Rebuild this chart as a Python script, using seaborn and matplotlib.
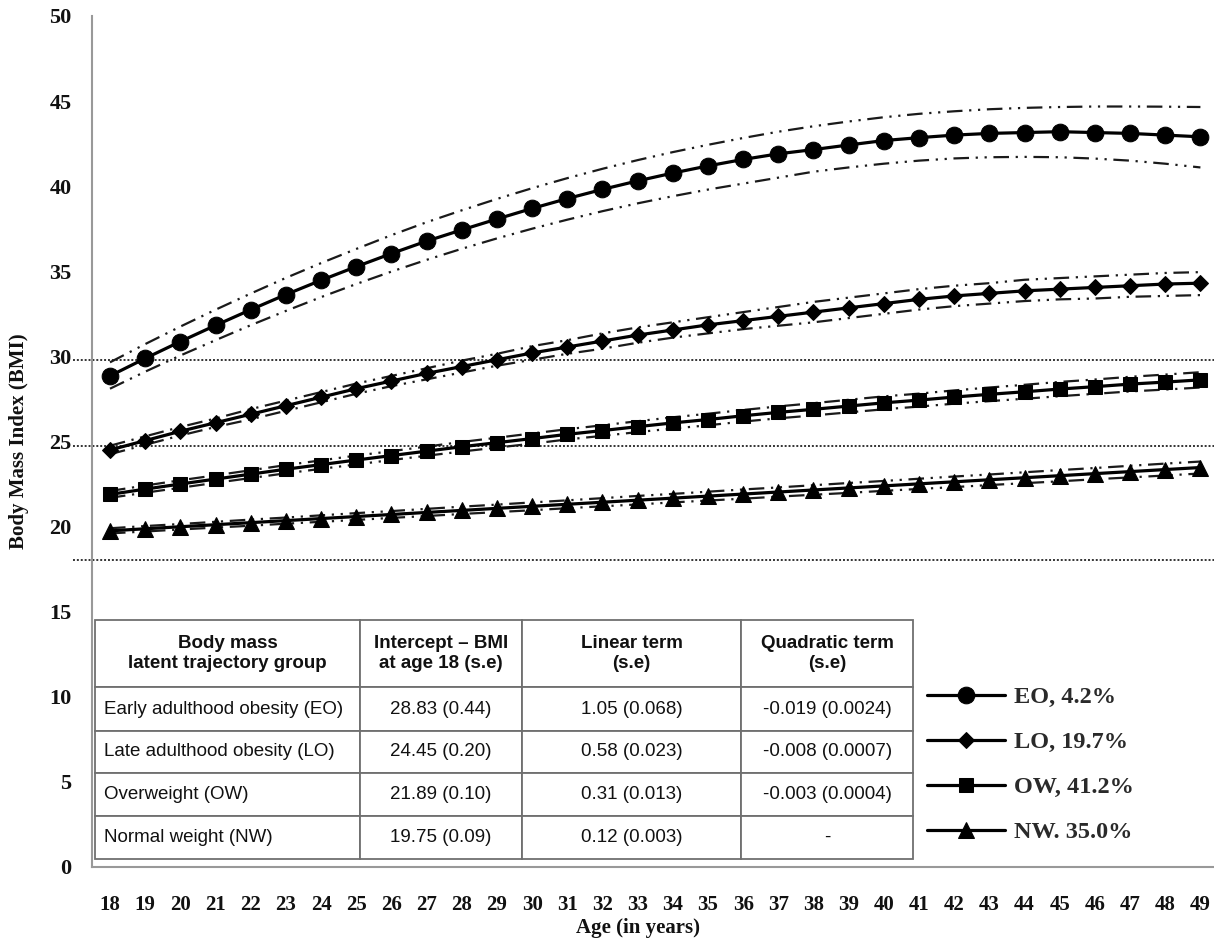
import matplotlib
matplotlib.use("Agg")
import matplotlib.pyplot as plt
from matplotlib import font_manager
from matplotlib.ticker import MultipleLocator
import pandas as pd
import seaborn as sns

# ---- data -------------------------------------------------------------------
ages = list(range(18, 50))

eo = [28.85, 29.88, 30.87, 31.82, 32.74, 33.63, 34.47, 35.27, 36.04, 36.77, 37.43,
      38.07, 38.69, 39.27, 39.81, 40.31, 40.77, 41.19, 41.57, 41.90, 42.15, 42.42,
      42.68, 42.85, 43.00, 43.10, 43.15, 43.20, 43.15, 43.10, 43.00, 42.90]
eo_hi = [29.65, 30.72, 31.75, 32.74, 33.69, 34.61, 35.48, 36.31, 37.12, 37.88, 38.58,
         39.25, 39.88, 40.47, 41.02, 41.53, 42.00, 42.43, 42.83, 43.20, 43.52, 43.80,
         44.05, 44.25, 44.40, 44.52, 44.60, 44.65, 44.68, 44.68, 44.67, 44.65]
eo_lo = [28.10, 29.10, 30.05, 30.95, 31.83, 32.67, 33.48, 34.25, 34.98, 35.67, 36.32,
         36.93, 37.50, 38.03, 38.53, 38.99, 39.41, 39.80, 40.15, 40.50, 40.85, 41.10,
         41.32, 41.50, 41.63, 41.70, 41.72, 41.70, 41.62, 41.50, 41.32, 41.10]

lo = [24.50, 25.05, 25.60, 26.10, 26.60, 27.10, 27.60, 28.10, 28.55, 29.00, 29.40,
      29.80, 30.20, 30.55, 30.90, 31.25, 31.55, 31.85, 32.10, 32.35, 32.60, 32.85,
      33.10, 33.35, 33.55, 33.70, 33.85, 33.95, 34.05, 34.15, 34.25, 34.30]
lo_hi = [24.75, 25.30, 25.85, 26.35, 26.90, 27.40, 27.90, 28.40, 28.85, 29.30, 29.75,
         30.15, 30.60, 30.95, 31.35, 31.70, 32.00, 32.30, 32.60, 32.90, 33.20, 33.45,
         33.70, 33.95, 34.15, 34.30, 34.50, 34.60, 34.70, 34.80, 34.90, 34.95]
lo_lo = [24.25, 24.80, 25.35, 25.85, 26.30, 26.80, 27.30, 27.80, 28.25, 28.65, 29.05,
         29.45, 29.80, 30.15, 30.45, 30.80, 31.10, 31.35, 31.60, 31.80, 32.00, 32.25,
         32.50, 32.75, 32.95, 33.10, 33.25, 33.35, 33.40, 33.50, 33.55, 33.60]

ow = [21.89, 22.20, 22.50, 22.79, 23.08, 23.37, 23.64, 23.91, 24.17, 24.43, 24.69,
      24.93, 25.17, 25.42, 25.64, 25.87, 26.09, 26.29, 26.51, 26.71, 26.89, 27.08,
      27.27, 27.43, 27.61, 27.77, 27.92, 28.08, 28.22, 28.37, 28.49, 28.62]
ow_hi = [22.09, 22.41, 22.72, 23.01, 23.31, 23.61, 23.89, 24.17, 24.43, 24.70, 24.97,
         25.22, 25.47, 25.72, 25.95, 26.19, 26.42, 26.63, 26.85, 27.06, 27.25, 27.45,
         27.65, 27.81, 28.00, 28.17, 28.33, 28.50, 28.64, 28.80, 28.93, 29.07]
ow_lo = [21.69, 21.99, 22.28, 22.57, 22.85, 23.13, 23.39, 23.65, 23.91, 24.16, 24.41,
         24.64, 24.87, 25.12, 25.33, 25.55, 25.76, 25.95, 26.17, 26.36, 26.53, 26.71,
         26.89, 27.05, 27.22, 27.37, 27.51, 27.66, 27.80, 27.94, 28.05, 28.17]

nw = [19.75, 19.87, 19.99, 20.11, 20.23, 20.35, 20.47, 20.59, 20.71, 20.83, 20.95,
      21.07, 21.19, 21.31, 21.43, 21.55, 21.67, 21.79, 21.91, 22.03, 22.15, 22.27,
      22.39, 22.51, 22.63, 22.75, 22.87, 22.99, 23.11, 23.23, 23.35, 23.47]
nw_hi = [19.90, 20.03, 20.15, 20.28, 20.41, 20.53, 20.66, 20.79, 20.91, 21.04, 21.17,
         21.29, 21.42, 21.54, 21.67, 21.80, 21.92, 22.05, 22.18, 22.30, 22.43, 22.56,
         22.68, 22.81, 22.94, 23.06, 23.19, 23.32, 23.44, 23.57, 23.70, 23.82]
nw_lo = [19.60, 19.71, 19.83, 19.94, 20.05, 20.17, 20.28, 20.39, 20.51, 20.62, 20.74,
         20.85, 20.96, 21.08, 21.19, 21.30, 21.42, 21.53, 21.64, 21.76, 21.87, 21.98,
         22.10, 22.21, 22.32, 22.44, 22.55, 22.66, 22.78, 22.89, 23.00, 23.12]

groups = ["EO", "LO", "OW", "NW"]
legend_labels = ["EO, 4.2%", "LO, 19.7%", "OW, 41.2%", "NW. 35.0%"]
cutoffs = [29.8, 24.75, 18.05]   # dotted BMI reference lines

tbl_header = ["Body mass\nlatent trajectory group", "Intercept \u2013 BMI\nat age 18 (s.e)",
              "Linear term\n(s.e)", "Quadratic term\n(s.e)"]
tbl_group = ["Early adulthood obesity (EO)", "Late adulthood obesity (LO)",
             "Overweight (OW)", "Normal weight (NW)"]
tbl_intercept = ["28.83 (0.44)", "24.45 (0.20)", "21.89 (0.10)", "19.75 (0.09)"]
tbl_linear = ["1.05 (0.068)", "0.58 (0.023)", "0.31 (0.013)", "0.12 (0.003)"]
tbl_quad = ["-0.019 (0.0024)", "-0.008 (0.0007)", "-0.003 (0.0004)", "-"]

# ---- long frame -------------------------------------------------------------
series = {"EO": (eo, eo_hi, eo_lo), "LO": (lo, lo_hi, lo_lo),
          "OW": (ow, ow_hi, ow_lo), "NW": (nw, nw_hi, nw_lo)}
frames = []
for g in groups:
    m, hi, lo_ = series[g]
    frames.append(pd.DataFrame({"group": g, "age": ages, "bmi": m, "upper": hi, "lower": lo_}))
df = pd.concat(frames, ignore_index=True)

# ---- style ------------------------------------------------------------------
sns.set_style("white")
plt.rcParams["font.family"] = ["Liberation Serif", "DejaVu Serif"]

names = {f.name for f in font_manager.fontManager.ttflist}
if "Liberation Sans Narrow" in names:
    tfont, tsize = "Liberation Sans Narrow", 16
else:
    tfont, tsize = "Liberation Sans", 13.5

fig = plt.figure(figsize=(12.14, 9.39), dpi=100)
ax = fig.add_axes([0.0761, 0.0767, 0.9272, 0.9063])

markers = {"EO": ("o", 12), "LO": ("D", 8.5), "OW": ("s", 10.5), "NW": ("^", 11)}
band_ls = (0, (7, 3, 1, 3, 1, 3))

for g, lab in zip(groups, legend_labels):
    d = df[df["group"] == g]
    for col in ("upper", "lower"):
        sns.lineplot(data=d, x="age", y=col, ax=ax, color="#1a1a1a", lw=1.6,
                     ls=band_ls, zorder=2, legend=False)
    mk, ms = markers[g]
    sns.lineplot(data=d, x="age", y="bmi", ax=ax, color="black", lw=2.3,
                 marker=mk, markersize=ms, markeredgecolor="black",
                 markerfacecolor="black", label=lab, zorder=3)

ax.hlines(cutoffs, 16.95, 49.6, colors="#333333", linestyles=(0, (1, 1)),
          lw=1.4, clip_on=False, zorder=1)

# ---- axes -------------------------------------------------------------------
ax.set_xlim(17.5, 49.5)
ax.set_ylim(0, 50)
ax.set_xticks(ages)
ax.set_xticklabels([str(a) for a in ages])
ax.xaxis.set_minor_locator(MultipleLocator(1, 0.5))
ax.yaxis.set_major_locator(MultipleLocator(5))
ax.yaxis.set_minor_locator(MultipleLocator(1))
ax.tick_params(axis="x", which="major", length=0, pad=20, labelsize=15)
ax.tick_params(axis="x", which="minor", length=6, direction="out", color="#999999", width=1.2)
ax.tick_params(axis="y", which="major", length=7, direction="in", color="#999999",
               width=1.2, pad=15, labelsize=16)
ax.tick_params(axis="y", which="minor", length=4, direction="in", color="#999999", width=1.0)
for t in ax.get_xticklabels() + ax.get_yticklabels():
    t.set_fontweight("bold")
    t.set_color("#111111")

for s in ("top", "right"):
    ax.spines[s].set_visible(False)
for s in ("left", "bottom"):
    ax.spines[s].set_color("#999999")
    ax.spines[s].set_linewidth(1.5)

ax.set_xlabel("Age (in years)", fontsize=15, fontweight="bold", color="#111111")
ax.set_ylabel("Body Mass Index (BMI)", fontsize=15, fontweight="bold", color="#111111")
ax.xaxis.set_label_coords(0.485, -0.06)
ax.yaxis.set_label_coords(-0.056, 0.5)

# ---- legend -----------------------------------------------------------------
handles, labels = ax.get_legend_handles_labels()
ax.legend(handles, labels, loc="upper left", bbox_to_anchor=(927 / 1214, 1 - 686 / 939),
          bbox_transform=fig.transFigure, frameon=False, borderpad=0, borderaxespad=0,
          handlelength=3.2, handletextpad=0.4, labelspacing=0.95,
          prop={"family": "Liberation Serif", "size": 17.5, "weight": "bold"})
for t in ax.get_legend().get_texts():
    t.set_color("#2a2a2a")

# ---- table ------------------------------------------------------------------
rows = [list(r) for r in zip(tbl_group, tbl_intercept, tbl_linear, tbl_quad)]
tbl = ax.table(cellText=rows, colLabels=tbl_header, colWidths=[265, 162, 219, 172],
               cellLoc="center", bbox=[0.0023, 0.0094, 0.727, 0.2808])
tbl.auto_set_font_size(False)
tbl.set_fontsize(tsize)
row_h = [67, 44, 42, 43, 43]
for (r, c), cell in tbl.get_celld().items():
    cell.set_height(row_h[r])
    cell.set_edgecolor("#6f6f6f")
    cell.set_linewidth(1.3)
    txt = cell.get_text()
    txt.set_fontfamily(tfont)
    txt.set_color("#111111")
    if r == 0:
        txt.set_fontweight("bold")
    elif c == 0:
        cell._loc = "left"
        cell.PAD = 0.035
        txt.set_ha("left")

fig.savefig("out.png", dpi=100)
